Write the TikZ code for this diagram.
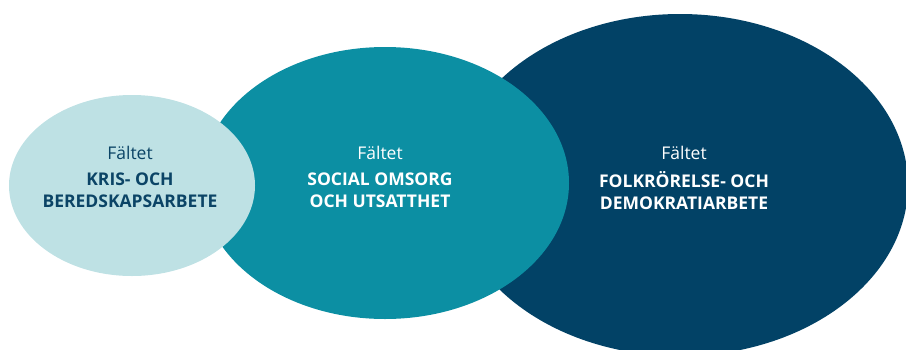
\documentclass[tikz,border=0pt]{standalone}
\usepackage{fontspec}
\setmainfont{Open Sans}
\definecolor{lightc}{HTML}{BEE1E4}
\definecolor{midc}{HTML}{0C8FA3}
\definecolor{darkc}{HTML}{024266}
\definecolor{navytext}{HTML}{0B4466}
\begin{document}
\begin{tikzpicture}[x=1pt,y=-1pt,
  field/.style={font=\fontsize{17.5}{22}\selectfont, align=center, inner sep=0pt},
  title/.style={font=\fontsize{17.5}{22}\selectfont\bfseries, align=center, inner sep=0pt}]
\useasboundingbox (0,0) rectangle (906,349);
\begin{scope}
\clip (0,0) rectangle (906,349);
\fill[darkc] (680,185) ellipse [x radius=228, y radius=171];
\fill[midc] (385,183) ellipse [x radius=184, y radius=136];
\fill[lightc] (132,185.5) ellipse [x radius=123, y radius=90.5];
\end{scope}
\node[field, text=navytext] (f1) at (130,153) {Fältet};
\node[title, text=navytext] (t1) at (130,190.5) {KRIS- OCH\\BEREDSKAPSARBETE};
\node[field, text=white] (f2) at (380,153) {Fältet};
\node[title, text=white] (t2) at (380,190.5) {SOCIAL OMSORG\\OCH UTSATTHET};
\node[field, text=white] (f3) at (684,153) {Fältet};
\node[title, text=white] (t3) at (684,190.5) {FOLKRÖRELSE- OCH\\DEMOKRATIARBETE};
\end{tikzpicture}
\end{document}
